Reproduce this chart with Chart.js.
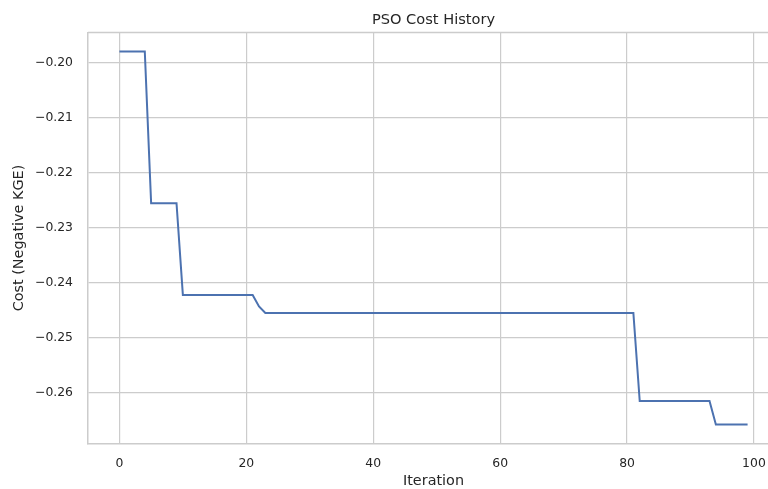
<!DOCTYPE html>
<html>
<head>
<meta charset="utf-8">
<script src="https://cdn.jsdelivr.net/npm/chart.js@4/dist/chart.umd.min.js"></script>
<style>
  html, body { margin: 0; padding: 0; overflow: hidden; background: #fff; }
  #wrap { position: relative; width: 790px; height: 489px; }
</style>
</head>
<body>
<div id="wrap"><canvas id="costChart"></canvas></div>
<script>
// best cost per PSO iteration
const costs = [
  -0.1979, -0.1979, -0.1979, -0.1979, -0.1979,
  -0.2255, -0.2255, -0.2255, -0.2255, -0.2255,
  -0.2422, -0.2422, -0.2422, -0.2422, -0.2422, -0.2422,
  -0.2422, -0.2422, -0.2422, -0.2422, -0.2422, -0.2422,
  -0.2443,
  -0.2455, -0.2455, -0.2455, -0.2455, -0.2455, -0.2455, -0.2455, -0.2455, -0.2455, -0.2455,
  -0.2455, -0.2455, -0.2455, -0.2455, -0.2455, -0.2455, -0.2455, -0.2455, -0.2455, -0.2455,
  -0.2455, -0.2455, -0.2455, -0.2455, -0.2455, -0.2455, -0.2455, -0.2455, -0.2455, -0.2455,
  -0.2455, -0.2455, -0.2455, -0.2455, -0.2455, -0.2455, -0.2455, -0.2455, -0.2455, -0.2455,
  -0.2455, -0.2455, -0.2455, -0.2455, -0.2455, -0.2455, -0.2455, -0.2455, -0.2455, -0.2455,
  -0.2455, -0.2455, -0.2455, -0.2455, -0.2455, -0.2455, -0.2455, -0.2455, -0.2455,
  -0.2615, -0.2615, -0.2615, -0.2615, -0.2615, -0.2615,
  -0.2615, -0.2615, -0.2615, -0.2615, -0.2615, -0.2615,
  -0.2658, -0.2658, -0.2658, -0.2658, -0.2658, -0.2658
];
const iterations = costs.map((_, i) => i);
const xTicks = [0, 20, 40, 60, 80, 100];
const yTicks = [-0.20, -0.21, -0.22, -0.23, -0.24, -0.25, -0.26];

const TEXT = '#262626';
const GRID = '#cccccc';
const FONT = 'DejaVu Sans';

// matplotlib-style 5% margins
const xMin = -4.95, xMax = 103.95;
const yMin = -0.26922, yMax = -0.19447;

// centre the title over the plot area and draw the top spine
const frame = {
  id: 'frame',
  afterLayout(chart) {
    const t = chart.titleBlock;
    if (t) {
      t.left = chart.chartArea.left;
      t.right = chart.chartArea.right;
      t.width = t.right - t.left;
    }
  },
  afterDraw(chart) {
    const { ctx, chartArea } = chart;
    ctx.save();
    ctx.strokeStyle = GRID;
    ctx.lineWidth = 1.5;
    ctx.beginPath();
    ctx.moveTo(chartArea.left, chartArea.top);
    ctx.lineTo(chartArea.right, chartArea.top);
    ctx.stroke();
    ctx.restore();
  }
};

new Chart(document.getElementById('costChart'), {
  type: 'line',
  data: {
    datasets: [{
      data: iterations.map((x, i) => ({ x: x, y: costs[i] })),
      borderColor: '#4c72b0',
      borderWidth: 2,
      pointRadius: 0,
      tension: 0,
      fill: false
    }]
  },
  options: {
    responsive: true,
    maintainAspectRatio: false,
    animation: false,
    layout: { padding: { left: 0, right: 11, top: 0, bottom: 0 } },
    plugins: {
      legend: { display: false },
      tooltip: { enabled: false },
      title: {
        display: true,
        text: 'PSO Cost History',
        color: TEXT,
        font: { family: FONT, size: 14.6, weight: 'normal' },
        padding: { top: 11.3, bottom: 3.8 }
      }
    },
    scales: {
      x: {
        type: 'linear',
        min: xMin,
        max: xMax,
        afterBuildTicks: s => { s.ticks = xTicks.map(v => ({ value: v })); },
        afterFit: s => { s.height = 45.6; },
        ticks: {
          color: TEXT,
          font: { family: FONT, size: 12.4 },
          padding: 13,
          maxRotation: 0,
          callback: v => String(v)
        },
        grid: { color: GRID, lineWidth: 1.2, drawTicks: false },
        border: { color: GRID, width: 1.5 },
        title: {
          display: true,
          text: 'Iteration',
          color: TEXT,
          font: { family: FONT, size: 14.4 },
          padding: { top: 0, bottom: -1 }
        }
      },
      y: {
        type: 'linear',
        min: yMin,
        max: yMax,
        afterBuildTicks: s => { s.ticks = yTicks.map(v => ({ value: v })); },
        afterFit: s => { s.width = 88; },
        ticks: {
          color: TEXT,
          font: { family: FONT, size: 12.4 },
          padding: 15,
          callback: v => '\u2212' + Math.abs(v).toFixed(2)
        },
        grid: { color: GRID, lineWidth: 1.2, drawTicks: false },
        border: { color: GRID, width: 1.5 },
        title: {
          display: true,
          text: 'Cost (Negative KGE)',
          color: TEXT,
          font: { family: FONT, size: 14.4 },
          padding: { top: 10.4, bottom: 0 }
        }
      }
    }
  },
  plugins: [frame]
});
</script>
</body>
</html>
